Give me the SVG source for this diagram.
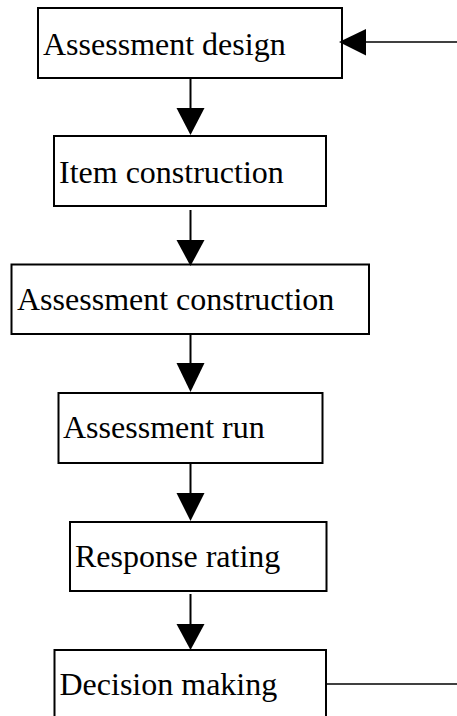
<svg xmlns="http://www.w3.org/2000/svg" width="457" height="716" viewBox="0 0 457 716">
<style>
.box{fill:#fff;stroke:#000;stroke-width:2}
.lbl{font-family:"Liberation Serif","Times New Roman",serif;font-size:32px;fill:#000}
.ln{stroke:#000;stroke-width:2;fill:none}
.hl{stroke:#000;stroke-width:1.5;fill:none}
.head{fill:#000;stroke:none}
</style>
<rect width="457" height="716" fill="#fff"/>
<g id="n1"><rect class="box" x="38" y="8" width="304" height="70"/><text class="lbl" x="43" y="55">Assessment design</text></g>
<g id="n2"><rect class="box" x="54" y="136" width="272" height="70"/><text class="lbl" x="59" y="183">Item construction</text></g>
<g id="n3"><rect class="box" x="11.5" y="264.5" width="357.5" height="69.5"/><text class="lbl" x="17" y="310">Assessment construction</text></g>
<g id="n4"><rect class="box" x="58.5" y="393" width="264" height="70"/><text class="lbl" x="63" y="438">Assessment run</text></g>
<g id="n5"><rect class="box" x="70" y="522" width="256.5" height="69"/><text class="lbl" x="75" y="567">Response rating</text></g>
<g id="n6"><rect class="box" x="54.5" y="650" width="271.5" height="80"/><text class="lbl" x="59.5" y="695">Decision making</text></g>
<g id="connectors">
<line class="ln" x1="190.5" y1="78" x2="190.5" y2="109"/><polygon class="head" points="176.5,108 204.5,108 190.5,135"/>
<line class="ln" x1="190.5" y1="210" x2="190.5" y2="241"/><polygon class="head" points="176.5,240 204.5,240 190.5,266"/>
<line class="ln" x1="190.5" y1="334" x2="190.5" y2="364"/><polygon class="head" points="176.5,363 204.5,363 190.5,392"/>
<line class="ln" x1="190.5" y1="463" x2="190.5" y2="494"/><polygon class="head" points="176.5,493 204.5,493 190.5,521"/>
<line class="ln" x1="190.5" y1="594" x2="190.5" y2="625"/><polygon class="head" points="176.5,624 204.5,624 190.5,650"/>
<line class="hl" x1="457" y1="42" x2="365" y2="42"/><polygon class="head" points="366,29 366,55.5 339,42"/>
<line class="hl" x1="326" y1="684" x2="457" y2="684"/>
</g>
</svg>
